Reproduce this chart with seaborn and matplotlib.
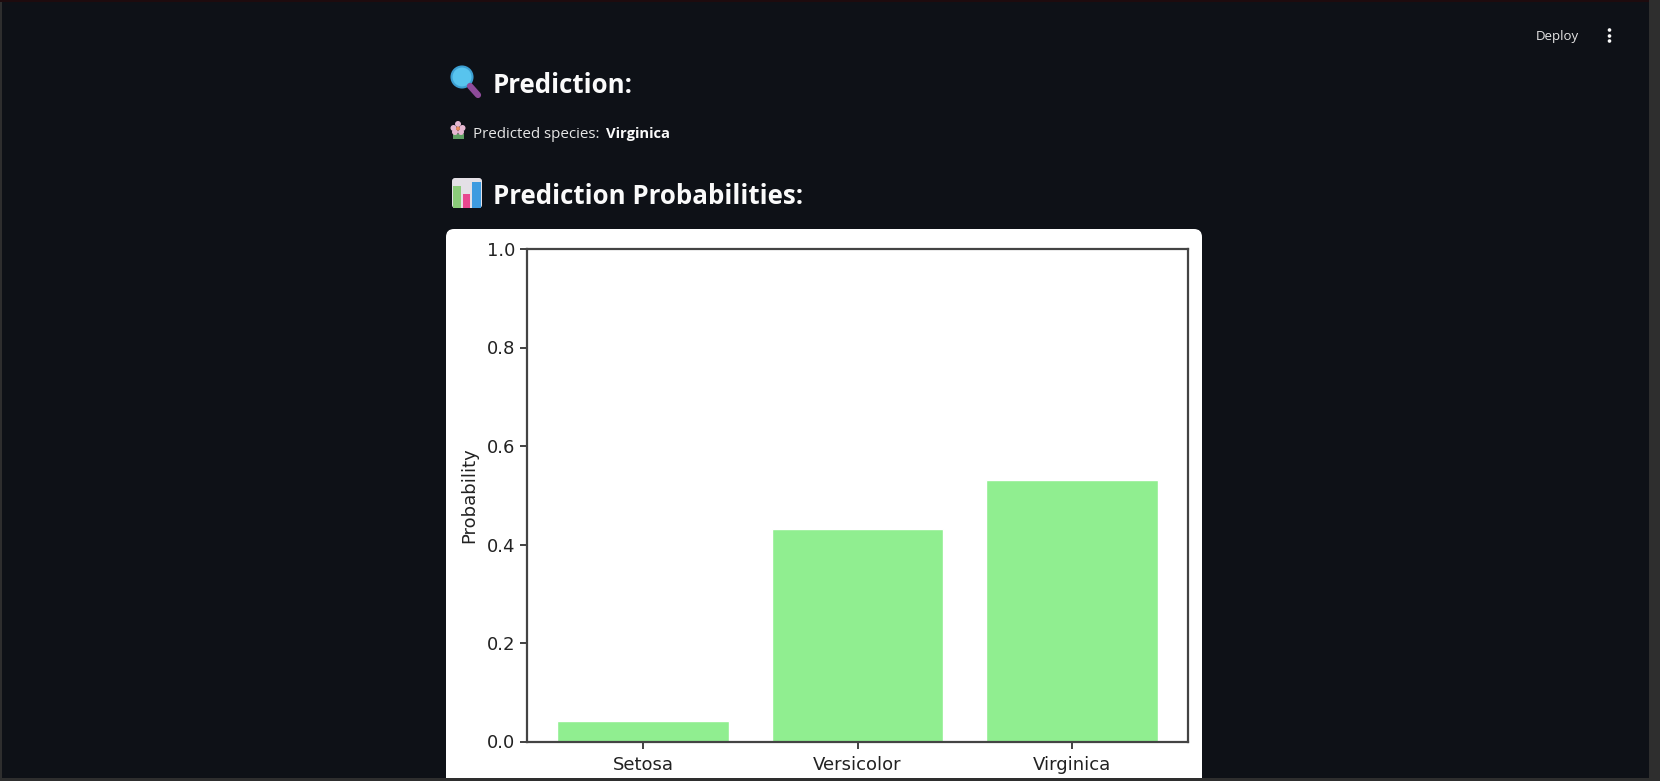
# Iris prediction page (Streamlit dark theme) with the probability bar chart

import matplotlib
matplotlib.use("Agg")

import matplotlib.pyplot as plt
import pandas as pd
import seaborn as sns
from matplotlib.patches import Circle, FancyBboxPatch, Rectangle

# ------------------------------------------------------------
# Data
# ------------------------------------------------------------
species = ["Setosa", "Versicolor", "Virginica"]
probabilities = [0.042, 0.432, 0.53]
y_ticks = [0.0, 0.2, 0.4, 0.6, 0.8, 1.0]

PAGE_BG = "#0E1117"
FW, FH = 1660, 781

sns.set_style("ticks")
plt.rcParams["font.family"] = ["DejaVu Sans"]

fig = plt.figure(figsize=(FW / 100, FH / 100), dpi=100, facecolor=PAGE_BG)

# Full-size layer in pixel units for the page around the chart.
page = fig.add_axes([0, 0, 1, 1], zorder=0)
page.set_xlim(0, FW)
page.set_ylim(FH, 0)
page.axis("off")

# White card behind the chart
page.add_patch(FancyBboxPatch((452, 235), 744, 600, boxstyle="round,pad=6,rounding_size=8",
                              fc="white", ec="none"))

UI_FONT = ["Open Sans", "Noto Sans", "DejaVu Sans"]
page.text(493, 93, "Prediction:", color="#FAFAFA", fontsize=18.6, fontweight="bold", family=UI_FONT)
page.text(493, 204, "Prediction Probabilities:", color="#FAFAFA", fontsize=18.6, fontweight="bold", family=UI_FONT)
page.text(473, 138, "Predicted species:", color="#E6E6E6", fontsize=10.9, family=UI_FONT)
page.text(606, 138, "Virginica", color="#FAFAFA", fontsize=10.6, fontweight="bold", family=UI_FONT)
page.text(1536, 40, "Deploy", color="#E6E6E6", fontsize=9.5, family=UI_FONT)

# Toolbar menu dots
for dot_y in [30, 36, 41]:
    page.add_patch(Circle((1609.5, dot_y), 1.8, fc="#FAFAFA", ec="none"))

# Magnifier icon
page.plot([470, 478], [86, 95], color="#8E4B9A", lw=4.5, solid_capstyle="round")
page.add_patch(Circle((462, 77), 10.5, fc="#58C4EE", ec="#3C9FD2", lw=1.5))

# Flower icon
page.add_patch(Rectangle((453, 134), 11, 5, fc="#5E9E62", ec="none"))
for px, py in [(458, 124), (453.5, 128), (462.5, 128), (455, 132), (461, 132)]:
    page.add_patch(Circle((px, py), 3, fc="#E6B8D2", ec="none"))
page.add_patch(Circle((458, 128.5), 2, fc="#E98A5A", ec="none"))

# Bar chart icon
page.add_patch(FancyBboxPatch((453, 179), 28, 28, boxstyle="round,pad=1,rounding_size=3",
                              fc="#E4E0E6", ec="none"))
page.add_patch(Rectangle((453, 186), 7.5, 22, fc="#8BCB7A", ec="none"))
page.add_patch(Rectangle((462.5, 194), 7.5, 14, fc="#E8478F", ec="none"))
page.add_patch(Rectangle((472, 182), 9, 26, fc="#3E9BE0", ec="none"))

# ------------------------------------------------------------
# Bar chart
# ------------------------------------------------------------
df = pd.DataFrame({"Species": species, "Probability": probabilities})

ax = fig.add_axes([527 / FW, 1 - 741.5 / FH, (1188 - 527) / FW, (741.5 - 249) / FH], zorder=1)
sns.barplot(data=df, x="Species", y="Probability", color="lightgreen", saturation=1, width=0.8, ax=ax)
ax.set_xlim(-0.54, 2.54)
ax.set_ylim(0, 1)
ax.set_yticks(y_ticks)
ax.set_xlabel("")
ax.set_ylabel("Probability", fontsize=13, color="#222222", labelpad=6)
ax.tick_params(axis="both", labelsize=13, labelcolor="#222222", color="#333333", width=1.3, length=5)
ax.tick_params(axis="x", pad=5.5)
for spine in ax.spines.values():
    spine.set_visible(True)
    spine.set_color("#444444")
    spine.set_linewidth(1.6)

# ------------------------------------------------------------
# Window edges of the screenshot, drawn over everything else
# ------------------------------------------------------------
edges = fig.add_axes([0, 0, 1, 1], zorder=2)
edges.set_xlim(0, FW)
edges.set_ylim(FH, 0)
edges.axis("off")
edges.add_patch(Rectangle((0, 778), FW, 3, fc="#2E2E2E", ec="none"))
edges.add_patch(Rectangle((1649, 0), 11, FH, fc="#2E2E2E", ec="none"))
edges.add_patch(Rectangle((0, 0), 2, FH, fc="#2E2E2E", ec="none"))
edges.add_patch(Rectangle((0, 0), 1649, 1.5, fc="#1E0B0E", ec="none"))

fig.savefig("out.png", dpi=100, facecolor=fig.get_facecolor())
plt.close(fig)
